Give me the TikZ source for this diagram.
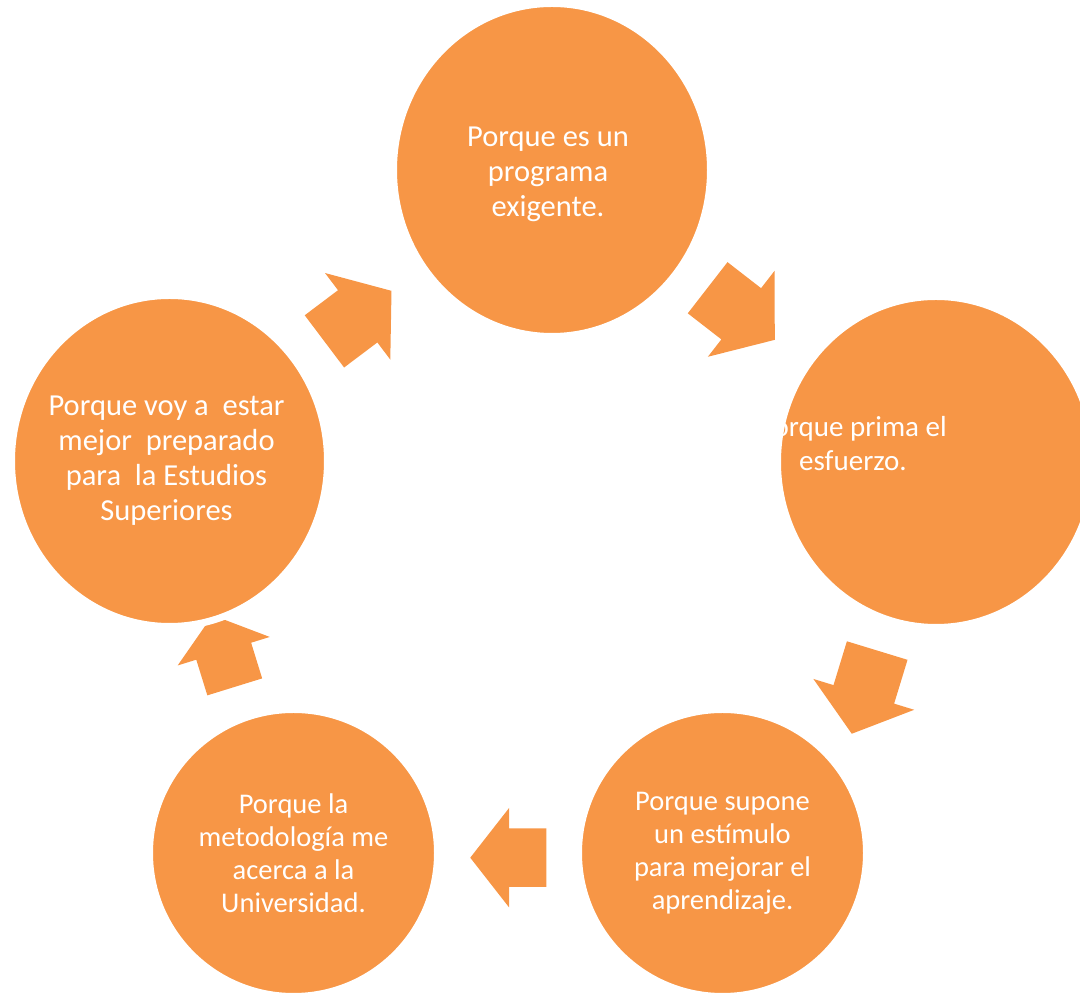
\documentclass[tikz,border=0pt]{standalone}
\usepackage{fontspec}
\setmainfont{Carlito}
\usetikzlibrary{shapes.geometric, shapes.arrows, positioning}

\definecolor{naranja}{HTML}{F79646}

\tikzset{
  burbuja/.style={ellipse, fill=naranja, draw=white, line width=7pt, inner sep=0pt},
  texto/.style={text=white, align=center, inner sep=0pt},
  flecha/.style={single arrow, fill=naranja, draw=none, inner xsep=0pt, single arrow tip angle=104, anchor=tip},
}

\begin{document}
\begin{tikzpicture}[x=1pt, y=1pt]
\useasboundingbox (0,0) rectangle (1080,993);
\clip (0,0) rectangle (1080,993);

% flechas
\node[flecha, minimum height=84pt, inner ysep=32.5pt, single arrow head extend=21.5pt, rotate=37] (f1) at (391.7,702.3) {};
\node[flecha, minimum height=85pt, inner ysep=32.2pt, single arrow head extend=22pt, rotate=-37.8] (f2) at (775,653) {};
\node[flecha, minimum height=87pt, inner ysep=31.5pt, single arrow head extend=21pt, rotate=253] (f3) at (851.7,259) {};
\node[flecha, minimum height=76pt, inner ysep=29pt, single arrow head extend=20.5pt, rotate=180] (f4) at (470,135.3) {};
\node[flecha, minimum height=75pt, inner ysep=28.5pt, single arrow head extend=19.5pt, rotate=107.2] (f5) at (212.5,378) {};

% circulos
\node[burbuja, minimum width=317pt, minimum height=333pt] (sup) at (552,823) {};
\node[burbuja, minimum width=317pt, minimum height=331pt] (der) at (936,531) {};
\node[burbuja, minimum width=288pt, minimum height=287pt] (infder) at (722.5,140) {};
\node[burbuja, minimum width=288pt, minimum height=287pt] (infizq) at (293.5,140) {};
\node[burbuja, minimum width=316pt, minimum height=331pt] (izq) at (169.5,532) {};

% textos
\node[texto, font=\fontsize{30.5}{35}\selectfont] (t-sup) at ([xshift=-4pt, yshift=-4pt]sup.center) {Porque es un\\programa\\exigente.};
\node[texto, font=\fontsize{29}{34}\selectfont] (t-der) at ([xshift=-83pt, yshift=18pt]der.center) {Porque prima el\\esfuerzo.};
\node[texto, font=\fontsize{28.5}{33}\selectfont] (t-infder) at (infder.center) {Porque supone\\un estímulo\\para mejorar el\\aprendizaje.};
\node[texto, font=\fontsize{28.5}{33}\selectfont] (t-infizq) at (infizq.center) {Porque la\\metodología me\\acerca a la\\Universidad.};
\node[texto, font=\fontsize{30.5}{35}\selectfont] (t-izq) at ([xshift=-3pt]izq.center) {Porque voy a \ estar\\mejor \ preparado\\para \ la Estudios\\Superiores};

\end{tikzpicture}
\end{document}
